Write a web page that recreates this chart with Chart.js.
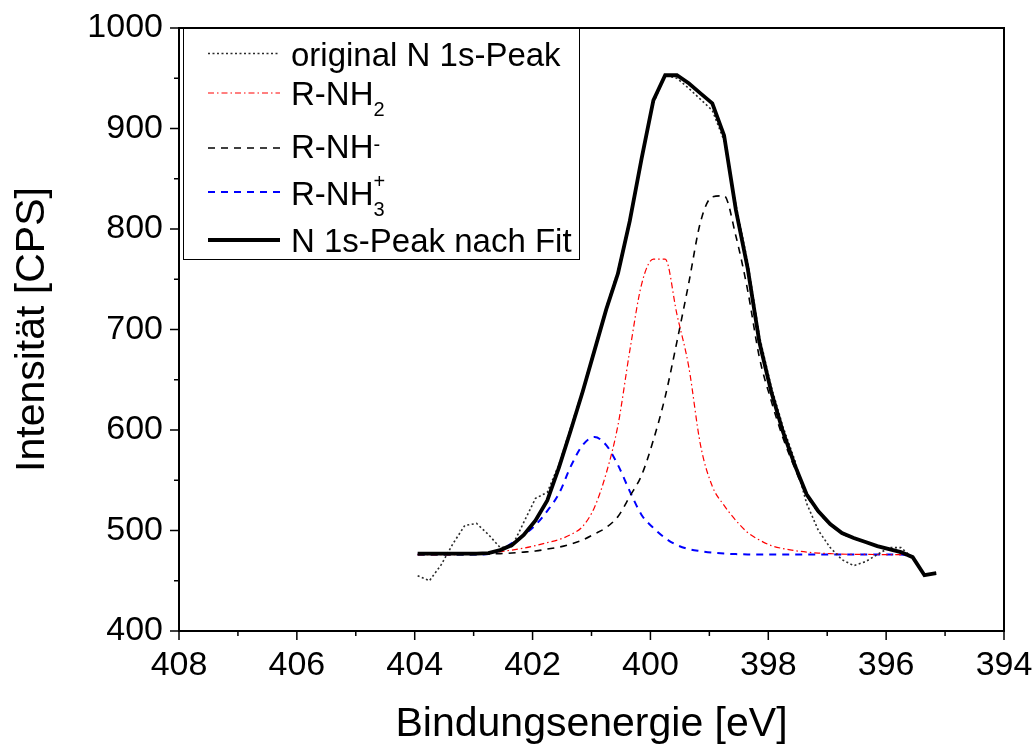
<!DOCTYPE html>
<html>
<head>
<meta charset="utf-8">
<script src="https://cdn.jsdelivr.net/npm/chart.js@4.4.1/dist/chart.umd.min.js"></script>
<style>
  html, body { margin: 0; padding: 0; background: #fff; }
  #wrap { width: 1032px; height: 749px; }
</style>
</head>
<body>
<div id="wrap"><canvas id="xps"></canvas></div>
<script>
// Bindungsenergie [eV]
var energies = [403.95, 403.75, 403.55, 403.35, 403.15, 402.95, 402.75, 402.55, 402.35, 402.15,
                401.95, 401.75, 401.55, 401.35, 401.15, 400.95, 400.75, 400.55, 400.35, 400.15,
                399.95, 399.75, 399.55, 399.35, 399.15, 398.95, 398.75, 398.55, 398.35, 398.15,
                397.95, 397.75, 397.55, 397.35, 397.15, 396.95, 396.75, 396.55, 396.35, 396.15,
                395.95, 395.75, 395.55, 395.35, 395.15];

// Intensität [CPS]
var original = [455, 450, 466, 487, 505, 507, 496, 483, 484, 508,
                532, 538, 566, 603, 640, 681, 722, 759, 810, 870,
                925, 953, 950, 940, 929, 918, 888, 824, 767, 693,
                643, 603, 570, 527, 500, 483, 471, 465, 469, 476,
                483, 483, 473, 456, 458];

var rNH2 = [476, 476, 476, 476, 476.5, 477, 477.5, 479, 480.5, 482.5,
            485, 488, 491, 496, 504, 523, 557, 605, 679, 745,
            770, 770, 715, 663, 585, 544, 525, 510, 498, 490.5,
            485, 482, 480, 478.5, 477.5, 477, 476.5, 476.3, 476.2, 476.1,
            476, 476, 474, null, null];

var rNHminus = [476, 476, 476, 476, 476, 476.2, 476.6, 477, 477.6, 478.5,
                479.6, 481.5, 483.5, 486.5, 490.5, 496.5, 503, 514, 534, 555,
                590, 633, 688, 746, 807, 832, 833, 793, 739, 672,
                629, 592, 562, 535, 518, 506, 497, 492, 488.5, 484.5,
                481.5, 478.5, 473.5, null, null];

var rNH3plus = [476, 476, 476, 476, 476, 476, 476.5, 480.5, 487.5, 495.5,
                505.5, 519.5, 537, 564, 585, 593, 585, 565, 539, 515.5,
                502.5, 492.5, 485.5, 481.5, 479.5, 478, 477, 476.5, 476.2, 476,
                476, 476, 476, 476, 476, 476, 476, 476, 476, 476,
                476, 476, 474, null, null];

var fitCurve = [477, 477, 477, 477, 477, 477, 477.5, 480.5, 485.5, 495.5,
                510, 530, 563, 600, 638, 679, 720, 756, 808, 870,
                928, 953, 953, 945, 935, 925, 893, 819, 761, 687,
                638, 598, 565, 536, 519, 506.5, 497.5, 492.5, 488.5, 484.5,
                481.5, 478.5, 473.5, 455.5, 457.5];

var xTicks = [408, 406, 404, 402, 400, 398, 396, 394];
var yTicks = [400, 500, 600, 700, 800, 900, 1000];

function pts(arr) {
  return energies.map(function (e, i) { return { x: e, y: arr[i] }; });
}

var FONT = '"Liberation Sans", Arial, sans-serif';
Chart.defaults.font.family = FONT;
Chart.defaults.color = '#000';

// keine automatischen Randabstände durch die Achsenbeschriftung
function noPad(s) {
  s.paddingTop = 0; s.paddingBottom = 0; s.paddingLeft = 0; s.paddingRight = 0;
}

// Rahmen, Ticks (mit Zwischenticks) und Legende mit Indizes
var frameAndLegend = {
  id: 'frameAndLegend',
  afterDraw: function (chart) {
    var ctx = chart.ctx, a = chart.chartArea;
    var xs = chart.scales.x, ys = chart.scales.y;
    ctx.save();
    ctx.strokeStyle = '#000';
    ctx.lineWidth = 2;
    ctx.setLineDash([]);
    ctx.strokeRect(a.left, a.top, a.right - a.left, a.bottom - a.top);

    ctx.lineWidth = 1.5;
    ctx.beginPath();
    for (var v = 394; v <= 408; v += 1) {
      var px = xs.getPixelForValue(v);
      var len = (v % 2 === 0) ? 9 : 5;
      ctx.moveTo(px, a.bottom);
      ctx.lineTo(px, a.bottom + len);
    }
    for (var w = 400; w <= 1000; w += 50) {
      var py = ys.getPixelForValue(w);
      var l2 = (w % 100 === 0) ? 9 : 5;
      ctx.moveTo(a.left, py);
      ctx.lineTo(a.left - l2, py);
    }
    ctx.stroke();

    // Legende
    var bx = a.left + 4, by = a.top, bw = 396, bh = 231;
    ctx.fillStyle = '#fff';
    ctx.fillRect(bx, by, bw, bh);
    ctx.lineWidth = 1;
    ctx.strokeStyle = '#000';
    ctx.strokeRect(bx + 0.5, by + 0.5, bw, bh);

    var rows = [
      { ds: 0, lineY: 53.5, base: 66, parts: [['original N 1s-Peak', 0]] },
      { ds: 1, lineY: 93, base: 105, parts: [['R-NH', 0], ['2', 11]] },
      { ds: 2, lineY: 148, base: 158, parts: [['R-NH', 0], ['-', -7]] },
      { ds: 3, lineY: 192, base: 205, parts: [['R-NH', 0], ['3', 11], ['+', -17]] },
      { ds: 4, lineY: 240, base: 252, parts: [['N 1s-Peak nach Fit', 0]] }
    ];
    rows.forEach(function (r) {
      var d = chart.data.datasets[r.ds];
      ctx.beginPath();
      ctx.strokeStyle = d.borderColor;
      ctx.lineWidth = d.borderWidth;
      ctx.setLineDash(d.borderDash || []);
      ctx.moveTo(208, r.lineY);
      ctx.lineTo(280, r.lineY);
      ctx.stroke();
      ctx.setLineDash([]);
      ctx.fillStyle = '#000';
      ctx.textBaseline = 'alphabetic';
      ctx.textAlign = 'left';
      var x = 291, subX = null;
      r.parts.forEach(function (p) {
        if (p[1] === 0) {
          ctx.font = '33px ' + FONT;
          ctx.fillText(p[0], x, r.base);
          x += ctx.measureText(p[0]).width;
        } else {
          ctx.font = '20px ' + FONT;
          var sx = (p[1] < 0 && subX !== null) ? subX : x;
          ctx.fillText(p[0], sx, r.base + p[1]);
          if (p[1] > 0) subX = x;
          x = Math.max(x, sx + ctx.measureText(p[0]).width);
        }
      });
    });
    ctx.restore();
  }
};

var ctx = document.getElementById('xps').getContext('2d');
var chart = new Chart(ctx, {
  type: 'line',
  data: {
    datasets: [
      { label: 'original N 1s-Peak', data: pts(original), borderColor: '#2a2a2a', borderWidth: 1.6,
        borderDash: [2, 2.5], pointRadius: 0, tension: 0, order: 1 },
      { label: 'R-NH2', data: pts(rNH2), borderColor: '#ff0000', borderWidth: 1.2,
        borderDash: [6, 3, 1.5, 3], pointRadius: 0, cubicInterpolationMode: 'monotone', order: 2 },
      { label: 'R-NH-', data: pts(rNHminus), borderColor: '#000', borderWidth: 1.6,
        borderDash: [7, 6], pointRadius: 0, cubicInterpolationMode: 'monotone', order: 2 },
      { label: 'R-NH3+', data: pts(rNH3plus), borderColor: '#0000ff', borderWidth: 2,
        borderDash: [7, 6], pointRadius: 0, cubicInterpolationMode: 'monotone', order: 2 },
      { label: 'N 1s-Peak nach Fit', data: pts(fitCurve), borderColor: '#000', borderWidth: 3.8,
        pointRadius: 0, tension: 0, order: 0 }
    ]
  },
  options: {
    responsive: true,
    maintainAspectRatio: false,
    animation: false,
    devicePixelRatio: 1,
    layout: { padding: { top: 28, right: 28, left: 0, bottom: 0 } },
    plugins: { legend: { display: false }, tooltip: { enabled: false } },
    scales: {
      x: {
        type: 'linear', reverse: true, min: 394, max: 408,
        afterBuildTicks: function (s) { s.ticks = xTicks.map(function (v) { return { value: v }; }); },
        afterFit: function (s) { s.height = 118; noPad(s); },
        grid: { display: false, drawTicks: false },
        border: { display: false },
        ticks: { font: { size: 34 }, color: '#000', padding: 14, maxRotation: 0, autoSkip: false,
                 callback: function (v) { return String(v); } },
        title: { display: true, text: 'Bindungsenergie [eV]', font: { size: 41 }, color: '#000',
                 padding: { top: 0, bottom: 0 } }
      },
      y: {
        min: 400, max: 1000,
        afterBuildTicks: function (s) { s.ticks = yTicks.map(function (v) { return { value: v }; }); },
        afterFit: function (s) { s.width = 179; noPad(s); },
        grid: { display: false, drawTicks: false },
        border: { display: false },
        ticks: { font: { size: 34 }, color: '#000', padding: 16, autoSkip: false,
                 callback: function (v) { return String(v); } },
        title: { display: true, text: 'Intensität [CPS]', font: { size: 41 }, color: '#000',
                 padding: { top: 8, bottom: 0 } }
      }
    }
  },
  plugins: [frameAndLegend]
});
</script>
</body>
</html>
